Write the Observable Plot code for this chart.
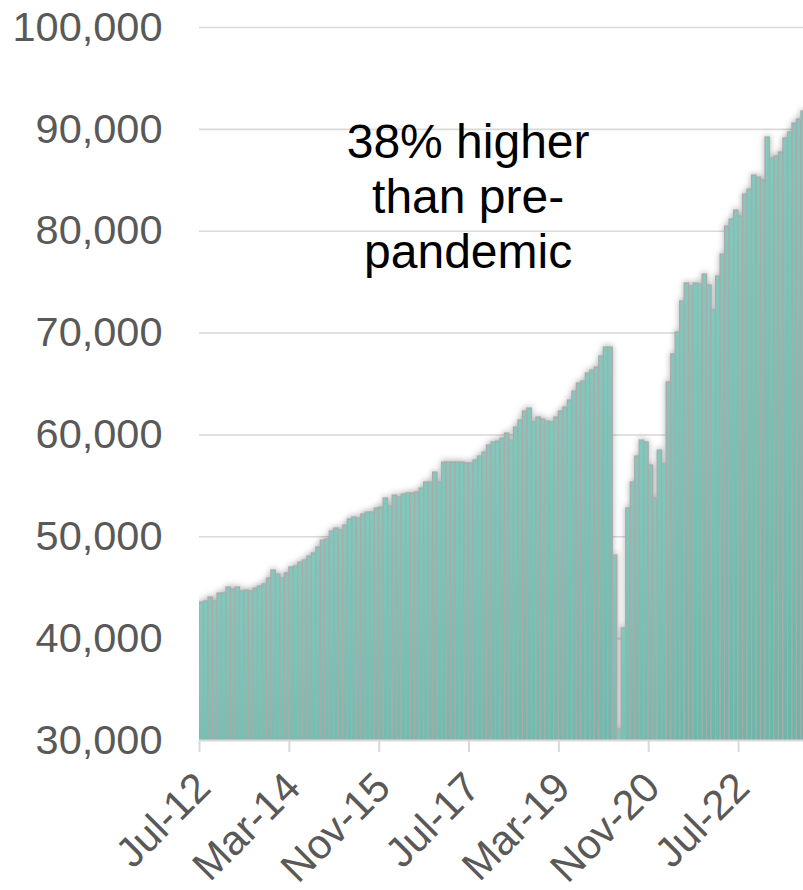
<!DOCTYPE html>
<html>
<head>
<meta charset="utf-8">
<script src="https://cdn.jsdelivr.net/npm/d3@7"></script>
<script src="https://cdn.jsdelivr.net/npm/@observablehq/plot@0.6"></script>
<style>
  body { margin: 0; background: #fff; }
  #chart { width: 803px; height: 890px; overflow: hidden; }
</style>
</head>
<body>
<div id="chart"></div>
<script>
// Monthly values, Jul-12 onward (one bar per month)
const values = [
  43550, 43650, 44040, 43650, 44430, 44430, 45020, 44820, 45020, 44630,
  44730, 44630, 44920, 45120, 45320, 45900, 46690, 46300, 45900, 46400,
  46980, 47080, 47470, 47670, 48060, 48360, 48950, 49630, 49730, 50520,
  50810, 50620, 51110, 51700, 51890, 51790, 52190, 52380, 52380, 52780,
  52870, 53760, 52970, 54050, 53860, 54150, 54250, 54250, 54350, 54740,
  55330, 55330, 56310, 55330, 57290, 57290, 57290, 57290, 57290, 57190,
  57190, 57490, 57880, 58270, 58960, 59260, 59350, 59650, 60140, 59450,
  60730, 61420, 62300, 62590, 61220, 61710, 61510, 61320, 61220, 61710,
  62300, 62690, 63380, 64260, 65050, 65240, 66030, 66320, 66620, 67700,
  68580, 68580, 48160, 31080, 41000, 52780, 55330, 57880, 59450, 59260,
  57000, 53760, 58470, 57100, 65150, 67900, 70060, 73100, 74870, 74570,
  74870, 74770, 75750, 74670, 72210, 75550, 77710, 80460, 81150, 82030,
  81440, 83600, 84090, 85470, 85270, 84980, 89200, 87140, 87330, 87730,
  89100, 89690, 90570, 90970, 91750
];
const xTickPositions = [0, 20, 40, 60, 80, 100, 120];
const xTickLabels = ["Jul-12", "Mar-14", "Nov-15", "Jul-17", "Mar-19", "Nov-20", "Jul-22"];
const yTicks = [30000, 40000, 50000, 60000, 70000, 80000, 90000, 100000];
const annotationText = ["38% higher\nthan pre-\npandemic"];
const annotationAt = { month: 59.8, value: 83500 };

const data = values.map((v, i) => ({ i, i2: i + 1, v }));
const font = "'Liberation Sans', Arial, sans-serif";

const plot = Plot.plot({
  width: 803,
  height: 890,
  marginLeft: 199,
  marginRight: 0,
  marginTop: 27,
  marginBottom: 150,
  style: { fontFamily: font, background: "#fff", overflow: "hidden" },
  x: { domain: [0, 134.46], axis: null },
  y: { domain: [30000, 100000], axis: null },
  marks: [
    Plot.gridY(yTicks.slice(1), { stroke: "#d9d9d9", strokeOpacity: 1, strokeWidth: 1.6 }),
    Plot.rectY(data, {
      x1: "i", x2: "i2", y: "v",
      fill: "url(#barGrad)", stroke: "#aaaaaa", strokeWidth: 1.2,
      clip: true
    }),
    Plot.ruleY([30000], { stroke: "#d9d9d9", strokeWidth: 2 }),
    Plot.axisY({
      ticks: yTicks, tickSize: 0, tickPadding: 37, label: null,
      tickFormat: d3.format(","), fontSize: 41.5, fill: "#595959"
    }),
    // tick marks only
    Plot.axisX({
      ticks: xTickPositions, label: null, tickFormat: () => "",
      tickSize: 12, stroke: "#d9d9d9", strokeWidth: 2
    }),
    // rotated tick labels
    Plot.axisX({
      ticks: xTickPositions, label: null,
      tickFormat: d => xTickLabels[xTickPositions.indexOf(d)],
      tickSize: 0, tickPadding: 40, tickRotate: -45, dx: 4,
      fontSize: 41.5, fill: "#595959"
    }),
    Plot.text(annotationText, {
      x: annotationAt.month, y: annotationAt.value, text: d => d,
      fontSize: 48, lineHeight: 1.14, fill: "#000", textAnchor: "middle"
    })
  ]
});

const ns = "http://www.w3.org/2000/svg";
const defs = document.createElementNS(ns, "defs");
defs.innerHTML = '<linearGradient id="barGrad" x1="0" y1="0" x2="0" y2="1">' +
  '<stop offset="0" stop-color="#82c8bc"/><stop offset="1" stop-color="#5daf9f"/></linearGradient>';
plot.insertBefore(defs, plot.firstChild);
const rg = plot.querySelector('g[aria-label="rect"]');
if (rg) rg.style.filter = "drop-shadow(0px -1px 3px rgba(0,0,0,0.3))";

document.getElementById("chart").appendChild(plot);
</script>
</body>
</html>
